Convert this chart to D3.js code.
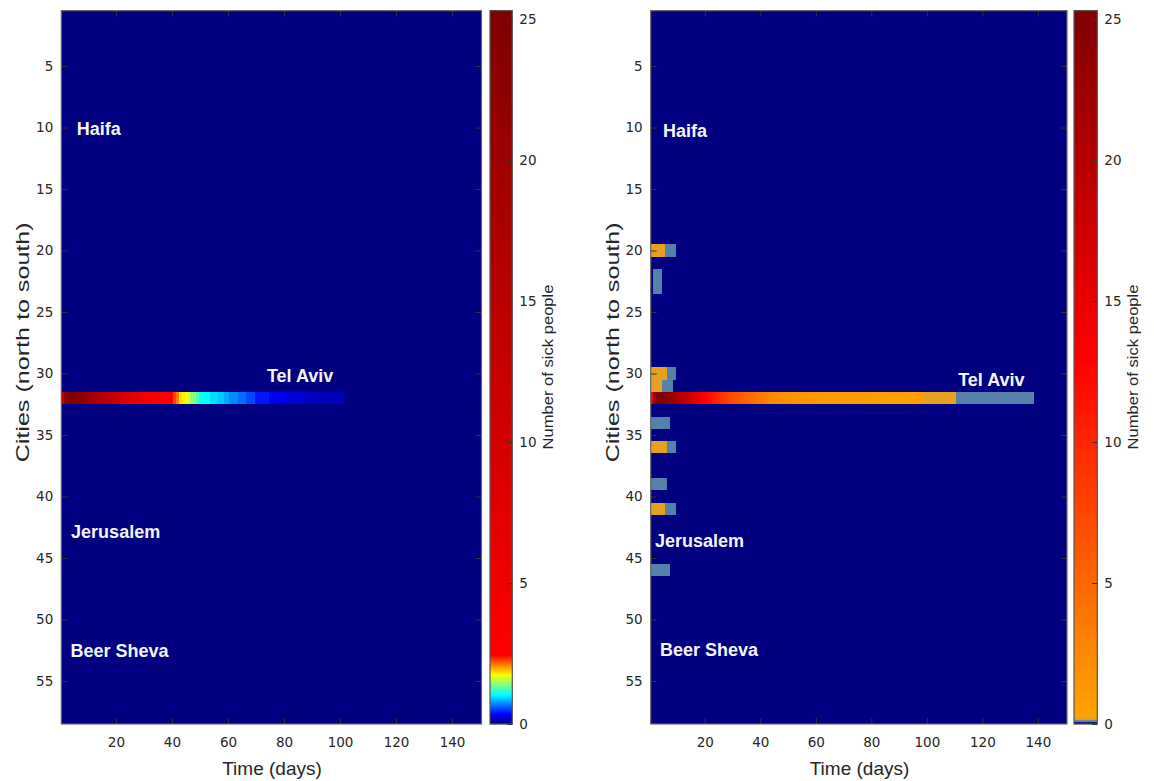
<!DOCTYPE html>
<html><head><meta charset="utf-8">
<script src="https://cdn.jsdelivr.net/npm/d3@7"></script>
<style>body{margin:0;background:#fff}</style>
</head><body>
<svg id="c" width="1154" height="781"></svg>
<script>
// ---------- data ----------
const nCities = 58, nDays = 150, telAvivRow = 32, maxValue = 25.3;
const xTicks = [20, 40, 60, 80, 100, 120, 140];
const yTicks = [5, 10, 15, 20, 25, 30, 35, 40, 45, 50, 55];
const cbTicks = [0, 5, 10, 15, 20, 25];
// left panel: sick people in Tel Aviv, day 1..101
const leftTelAviv = [
  12,22,25,25.3,25,24.5,23.5,22.5,21.5,20.5,
  19.5,18.7,17.9,17.1,16.3,15.6,14.9,14.1,13.3,12.4,
  11.5,10.6,9.7,9.0,8.3,7.7,7.1,6.6,6.1,5.6,
  5.1,4.7,4.3,3.9,3.6,3.3,3.0,2.8,2.6,2.5,
  2.25,2.1,1.85,1.8,1.72,1.68,1.45,1.42,1.25,
  1.1,1.08,1.05,1.05,
  0.96,0.95,0.95,
  0.9,0.9,
  0.82,0.82,
  0.73,0.73,0.73,
  0.65,0.65,0.65,
  0.54,0.54,0.54,
  0.41,0.41,0.41,0.41,0.41,
  0.31,0.31,0.31,0.31,0.31,0.31,
  0.25,0.25,0.25,0.25,0.25,0.25,0.25,
  0.17,0.17,0.17,0.17,0.17,0.17,0.17,0.17,0.17,0.17,0.17,0.17,0.17,0.17
];
// right panel: Tel Aviv, day 1..138
const rightTelAviv = [
  14,22,25,25.3,25,24.5,23.8,23,22.2,21.4,
  20.7,20,19.2,18.4,17.5,16.6,15.7,14.8,13.9,13,
  12.3,11.6,10.9,10.3,9.7,9.1,8.6,8.1,7.7,7.2,
  6.8,6.4,6.0,5.6,5.2,4.9,4.5,4.2,3.9,3.6,
  3.3,3.0,2.8,2.6,2.4,2.2,2.1,2.0,1.9,1.8,
  1.7,1.6,1.6,1.5,1.5,1.4,1.4,1.3,1.3,1.2,
  1.2,1.2,1.1,1.1,1.1,1.0,1.0,1.0,1.0,0.95,
  0.95,0.9,0.9,0.9,0.9,0.85,0.85,0.85,0.8,0.8,
  0.8,0.8,0.75,0.75,0.75,0.75,0.7,0.7,0.7,0.7,
  0.7,0.65,0.65,0.65,0.6,0.6,0.6,0.6,
  0.2,0.2,0.2,0.2,0.2,0.2,0.2,0.2,0.2,0.2,0.2,0.2,
  0.1,0.1,0.1,0.1,0.1,0.1,0.1,0.1,0.1,0.1,0.1,0.1,0.1,0.1,
  0.1,0.1,0.1,0.1,0.1,0.1,0.1,0.1,0.1,0.1,0.1,0.1,0.1,0.1
];
// right panel: other cities (row number) with values from day 1
const rightSmallRows = [20, 22, 23, 30, 31, 34, 36, 39, 41, 46];
const rightSmallValues = [
  [0.2,0.2,0.2,0.2,0.2,0.1,0.1,0.1,0.1],
  [0,0.1,0.1,0.1],
  [0,0.1,0.1,0.1],
  [0.2,0.2,0.2,0.2,0.2,0.2,0.1,0.1,0.1],
  [0.2,0.2,0.2,0.2,0.1,0.1,0.1,0.1],
  [0.1,0.1,0.1,0.1,0.1,0.1,0.1],
  [0.2,0.2,0.2,0.2,0.2,0.2,0.1,0.1,0.1],
  [0.1,0.1,0.1,0.1,0.1,0.1],
  [0.2,0.2,0.2,0.2,0.2,0.1,0.1,0.1,0.1],
  [0.1,0.1,0.1,0.1,0.1,0.1,0.1]
];
const cityNames = ["Haifa", "Tel Aviv", "Jerusalem", "Beer Sheva"];
const leftLabelDay = [6, 73.9, 4.0, 3.8];
const leftLabelRow = [10.6, 30.7, 43.4, 53.05];
const rightLabelDay = [4.9, 111.3, 2.05, 3.85];
const rightLabelRow = [10.77, 31.0, 44.1, 53.0];

// ---------- colour maps ----------
function jet(t) {
  const c = v => Math.max(0, Math.min(1, v));
  const r = c(1.5 - Math.abs(4 * t - 3)), g = c(1.5 - Math.abs(4 * t - 2)), b = c(1.5 - Math.abs(4 * t - 1));
  return d3.rgb(r * 255, g * 255, b * 255).toString();
}
const jetBreak = 2.45;
function leftColor(v) {
  const t = v <= jetBreak ? 0.875 * v / jetBreak : 0.875 + 0.125 * (v - jetBreak) / (maxValue - jetBreak);
  return jet(Math.min(1, t));
}
const warm = d3.scaleLinear().domain([0.25, 13, maxValue]).range(["#ffa500", "#ff0000", "#800000"]).clamp(true);
function rightColor(v) {
  if (v < 0.08) return "#000080";
  if (v < 0.14) return "#5482aa";
  if (v < 0.25) return "#e8a020";
  return warm(v);
}

// ---------- drawing ----------
const svg = d3.select("#c");
const y0 = 10.7, y1 = 724;
const y = d3.scaleLinear().domain([0.5, nCities + 0.5]).range([y0, y1]);
const cbY = d3.scaleLinear().domain([0, maxValue]).range([y1, y0]);
const tickCol = "#333", textCol = "#262626";

const panels = [
  { x0: 61.3, x1: 481.5, cb0: 490, cb1: 512.3, color: leftColor,
    rows: [{ row: telAvivRow, vals: leftTelAviv }],
    lblDay: leftLabelDay, lblRow: leftLabelRow, yLabX: 22, xLabX: 272, cbLabX: 548 },
  { x0: 650.7, x1: 1067, cb0: 1074, cb1: 1097.3, color: rightColor,
    rows: rightSmallRows.map((r, i) => ({ row: r, vals: rightSmallValues[i] })).concat([{ row: telAvivRow, vals: rightTelAviv }]),
    lblDay: rightLabelDay, lblRow: rightLabelRow, yLabX: 612, xLabX: 859.5, cbLabX: 1133 }
];

function styleAxis(g) {
  g.select(".domain").remove();
  g.selectAll(".tick line").attr("stroke", tickCol);
  g.selectAll(".tick text").attr("fill", textCol).style("font-family", "DejaVu Sans, Verdana, sans-serif").style("font-size", "13.5px");
}

panels.forEach(p => {
  const x = d3.scaleLinear().domain([0.5, nDays + 0.5]).range([p.x0, p.x1]);
  const g = svg.append("g");
  // background (zero sick)
  g.append("rect").attr("x", p.x0).attr("y", y0).attr("width", p.x1 - p.x0).attr("height", y1 - y0)
    .attr("fill", p.color(0));
  // cells
  p.rows.forEach(r => {
    g.append("g").attr("shape-rendering", "crispEdges")
      .selectAll("rect").data(r.vals.map((v, i) => ({ day: i + 1, v })).filter(d => d.v > 0))
      .join("rect")
      .attr("x", d => x(d.day - 0.5))
      .attr("width", d => x(d.day + 0.5) - x(d.day - 0.5))
      .attr("y", y(r.row - 0.5))
      .attr("height", y(r.row + 0.5) - y(r.row - 0.5))
      .attr("fill", d => p.color(d.v));
  });
  // city labels
  g.selectAll("text.city").data(cityNames).join("text").attr("class", "city")
    .attr("x", (d, i) => x(p.lblDay[i])).attr("y", (d, i) => y(p.lblRow[i]))
    .attr("fill", "#f4f4f4").style("font-family", "Liberation Sans, Arial, sans-serif")
    .style("font-weight", "bold").style("font-size", "18px").text(d => d);
  // axes
  g.append("g").attr("transform", `translate(${p.x0},0)`)
    .call(d3.axisLeft(y).tickValues(yTicks).tickSize(-6).tickPadding(8)).call(styleAxis);
  g.append("g").attr("transform", `translate(${p.x1},0)`)
    .call(d3.axisRight(y).tickValues(yTicks).tickSize(-6).tickFormat("")).call(styleAxis);
  g.append("g").attr("transform", `translate(0,${y1})`)
    .call(d3.axisBottom(x).tickValues(xTicks).tickSize(-6).tickPadding(13)).call(styleAxis);
  g.append("g").attr("transform", `translate(0,${y0})`)
    .call(d3.axisTop(x).tickValues(xTicks).tickSize(-6).tickFormat("")).call(styleAxis);
  g.append("rect").attr("x", p.x0).attr("y", y0).attr("width", p.x1 - p.x0).attr("height", y1 - y0)
    .attr("fill", "none").attr("stroke", "#666").attr("stroke-width", 1.2);
  // axis labels
  g.append("text").attr("transform", `translate(${p.yLabX},${(y0 + y1) / 2 - 25}) rotate(-90)`)
    .attr("text-anchor", "middle").attr("dy", "0.35em").attr("fill", textCol)
    .style("font-family", "Liberation Sans, Arial, sans-serif").style("font-size", "19px")
    .attr("textLength", 240).attr("lengthAdjust", "spacingAndGlyphs")
    .text("Cities (north to south)");
  g.append("text").attr("x", p.xLabX).attr("y", 775).attr("text-anchor", "middle").attr("fill", textCol)
    .style("font-family", "Liberation Sans, Arial, sans-serif").style("font-size", "19px").text("Time (days)");
  // colour bar
  const cb = svg.append("g");
  const steps = d3.range(0, Math.ceil(y1 - y0));
  cb.selectAll("rect").data(steps).join("rect")
    .attr("x", p.cb0).attr("width", p.cb1 - p.cb0)
    .attr("y", i => y1 - i - 1).attr("height", 1.2)
    .attr("fill", i => p.color(cbY.invert(y1 - i - 0.5)));
  cb.append("rect").attr("x", p.cb0).attr("y", y0).attr("width", p.cb1 - p.cb0).attr("height", y1 - y0)
    .attr("fill", "none").attr("stroke", "#555").attr("stroke-width", 1.2);
  cb.append("g").attr("transform", `translate(${p.cb1},0)`)
    .call(d3.axisRight(cbY).tickValues(cbTicks).tickSize(-5).tickPadding(7)).call(styleAxis);
  cb.append("text").attr("transform", `translate(${p.cbLabX},${367}) rotate(-90)`)
    .attr("text-anchor", "middle").attr("dy", "0.35em").attr("fill", textCol)
    .style("font-family", "Liberation Sans, Arial, sans-serif").style("font-size", "15px")
    .attr("textLength", 165).attr("lengthAdjust", "spacingAndGlyphs")
    .text("Number of sick people");
});
</script>
</body></html>
